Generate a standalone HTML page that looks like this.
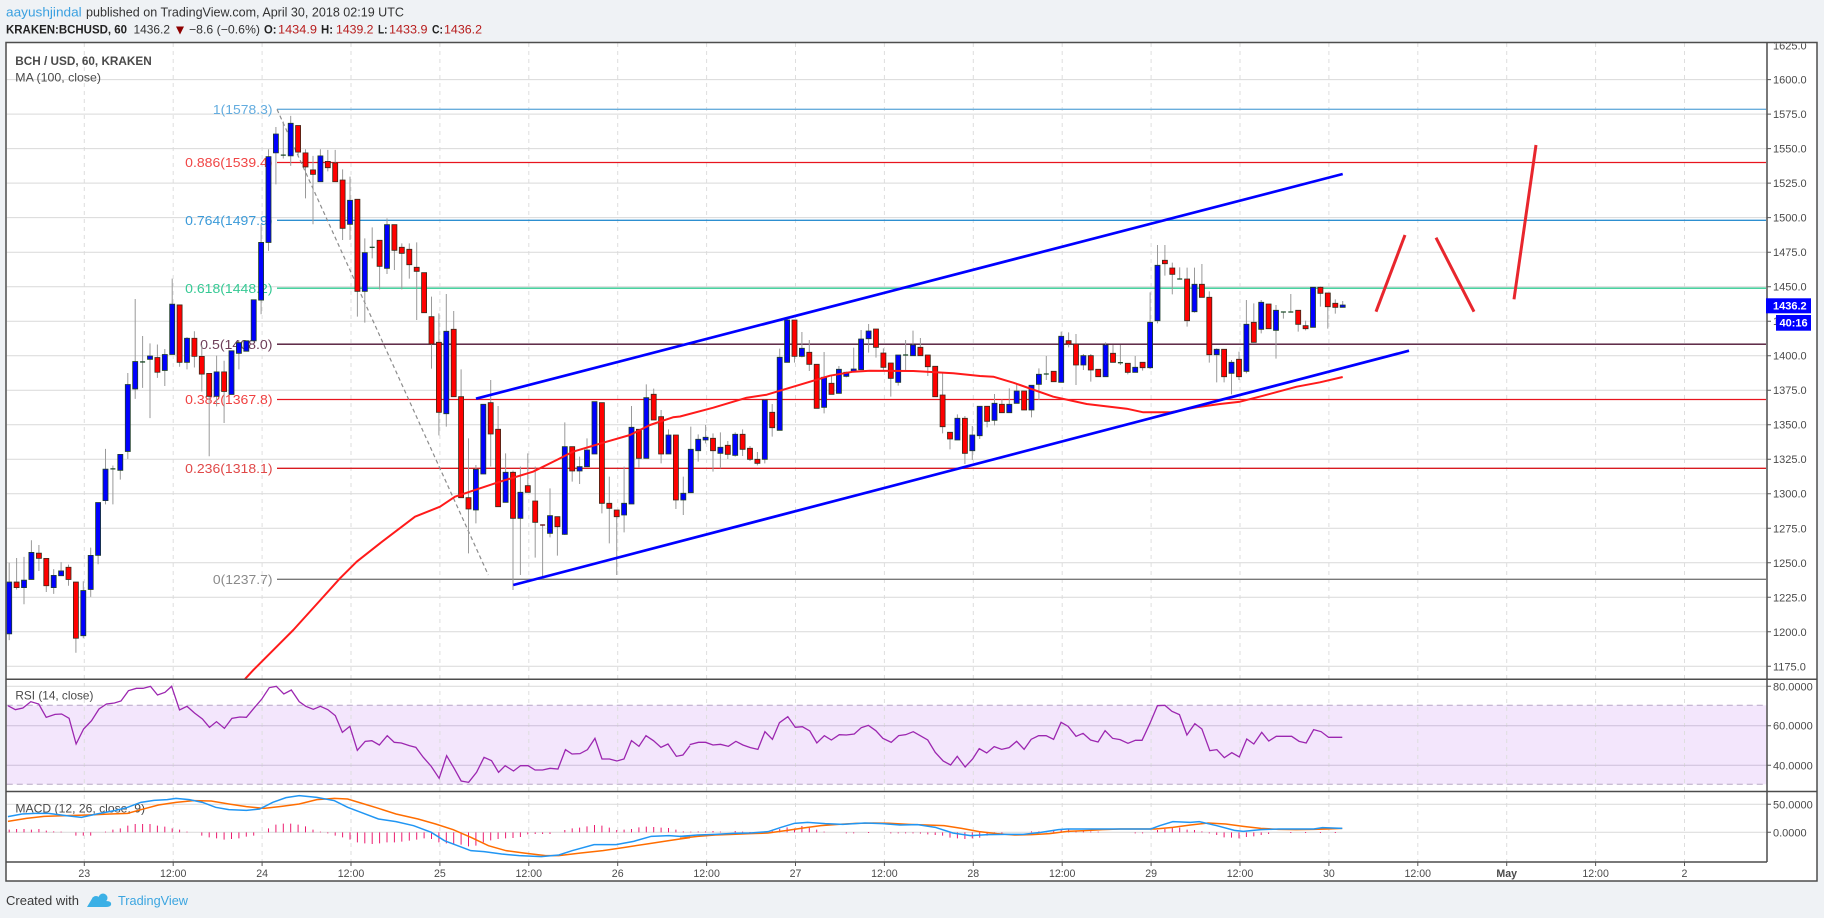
<!DOCTYPE html>
<html><head><meta charset="utf-8"><style>
html,body{margin:0;padding:0;background:#eff2f5;}
body{width:1824px;height:918px;overflow:hidden;}
svg{display:block;}
</style></head><body>
<svg width="1824" height="918" viewBox="0 0 1824 918" xmlns="http://www.w3.org/2000/svg" font-family="'Liberation Sans', Arial, sans-serif">
<defs>
<clipPath id="cm"><rect x="6.75" y="43.25" width="1759.5" height="635.5"/></clipPath>
<clipPath id="cr"><rect x="6.75" y="680" width="1759.5" height="111"/></clipPath>
<clipPath id="cd"><rect x="6.75" y="792.25" width="1759.5" height="69.5"/></clipPath>
<clipPath id="ca"><rect x="1767" y="43.5" width="50" height="636"/></clipPath>
</defs>
<rect width="1824" height="918" fill="#eff2f5"/>

<!-- header -->
<text x="6" y="16.5" font-size="13" fill="#3aa0e0" textLength="75.7" lengthAdjust="spacingAndGlyphs">aayushjindal</text>
<text x="86" y="16.5" font-size="13" fill="#333" textLength="318" lengthAdjust="spacingAndGlyphs">published on TradingView.com, April 30, 2018 02:19 UTC</text>
<g font-size="12">
<text x="6" y="33.5" font-weight="bold" fill="#222" textLength="121" lengthAdjust="spacingAndGlyphs">KRAKEN:BCHUSD, 60</text>
<text x="133.5" y="33.5" fill="#333" textLength="36.5" lengthAdjust="spacingAndGlyphs">1436.2</text>
<polygon points="176,26.5 184,26.5 180,34.5" fill="#8e0000"/>
<text x="189" y="33.5" fill="#333" textLength="71" lengthAdjust="spacingAndGlyphs">−8.6 (−0.6%)</text>
<text x="264" y="33.5" font-weight="bold" fill="#222" textLength="12.5" lengthAdjust="spacingAndGlyphs">O:</text>
<text x="278" y="33.5" fill="#b71c1c" textLength="39" lengthAdjust="spacingAndGlyphs">1434.9</text>
<text x="321" y="33.5" font-weight="bold" fill="#222" textLength="12" lengthAdjust="spacingAndGlyphs">H:</text>
<text x="336" y="33.5" fill="#b71c1c" textLength="37.5" lengthAdjust="spacingAndGlyphs">1439.2</text>
<text x="378" y="33.5" font-weight="bold" fill="#222" textLength="9.5" lengthAdjust="spacingAndGlyphs">L:</text>
<text x="389" y="33.5" fill="#b71c1c" textLength="38.5" lengthAdjust="spacingAndGlyphs">1433.9</text>
<text x="432" y="33.5" font-weight="bold" fill="#222" textLength="11" lengthAdjust="spacingAndGlyphs">C:</text>
<text x="444" y="33.5" fill="#b71c1c" textLength="38" lengthAdjust="spacingAndGlyphs">1436.2</text>
</g>

<!-- chart frame background -->
<rect x="6" y="42.5" width="1811" height="838.5" fill="#fff"/>

<!-- RSI band -->
<rect x="6.75" y="705.3" width="1759.5" height="79" fill="#f3e6fc"/>

<!-- vertical grid -->
<g stroke="#dedede" stroke-width="1" stroke-dasharray="4,4">
<path d="M84.3 43V862M173.2 43V862M262.1 43V862M351 43V862M439.9 43V862M528.8 43V862M617.7 43V862M706.6 43V862M795.5 43V862M884.4 43V862M973.3 43V862M1062.2 43V862M1151.1 43V862M1240 43V862M1328.9 43V862M1417.8 43V862M1506.7 43V862M1595.6 43V862M1684.5 43V862"/>
</g>

<!-- horizontal grid main -->
<g stroke="#d9d9d9" stroke-width="1">
<path d="M6.75 79.6H1767M6.75 114.1H1767M6.75 148.6H1767M6.75 183.1H1767M6.75 217.6H1767M6.75 252.2H1767M6.75 286.7H1767M6.75 321.2H1767M6.75 355.7H1767M6.75 390.2H1767M6.75 424.7H1767M6.75 459.2H1767M6.75 493.7H1767M6.75 528.3H1767M6.75 562.8H1767M6.75 597.3H1767M6.75 631.8H1767M6.75 666.3H1767"/>
<path d="M6.75 686.3H1767M6.75 804.3H1767M6.75 832.3H1767"/>
</g>
<path d="M6.75 725.7H1767M6.75 765.3H1767" stroke="#cdbfd9" stroke-width="1"/>
<path d="M6.75 705.3H1767M6.75 784.3H1767" stroke="#b8a8c6" stroke-width="1" stroke-dasharray="6,4"/>

<!-- fib levels -->
<g stroke-width="1.3">
<path d="M277 109.3H1766" stroke="#6aaedc"/>
<path d="M277 162.5H1766" stroke="#e8141e"/>
<path d="M277 220.3H1766" stroke="#2d8fd0"/>
<path d="M277 288.2H1766" stroke="#2fcc92"/>
<path d="M277 344.2H1766" stroke="#4b1030"/>
<path d="M277 399.5H1766" stroke="#e8141e"/>
<path d="M277 468.3H1766" stroke="#d81b20"/>
<path d="M277 579.3H1766" stroke="#787878"/>
</g>
<g font-size="13" text-anchor="end" lengthAdjust="spacingAndGlyphs">
<text x="272.5" y="113.9" fill="#63acdf" textLength="59.6" lengthAdjust="spacingAndGlyphs">1(1578.3)</text>
<text x="272.5" y="167.1" fill="#f04545" textLength="87.3" lengthAdjust="spacingAndGlyphs">0.886(1539.4)</text>
<text x="272.5" y="224.9" fill="#3a9ad9" textLength="87.3" lengthAdjust="spacingAndGlyphs">0.764(1497.9)</text>
<text x="272.5" y="292.8" fill="#35c994" textLength="87.3" lengthAdjust="spacingAndGlyphs">0.618(1448.2)</text>
<text x="272.5" y="348.8" fill="#6d3d58" textLength="72.3" lengthAdjust="spacingAndGlyphs">0.5(1408.0)</text>
<text x="272.5" y="404.1" fill="#f04040" textLength="87.3" lengthAdjust="spacingAndGlyphs">0.382(1367.8)</text>
<text x="272.5" y="472.9" fill="#e04848" textLength="87.3" lengthAdjust="spacingAndGlyphs">0.236(1318.1)</text>
<text x="272.5" y="583.9" fill="#8a8a8a" textLength="59.6" lengthAdjust="spacingAndGlyphs">0(1237.7)</text>
</g>

<!-- legends -->
<text x="15.3" y="65" font-size="12" font-weight="bold" fill="#4a4a4a" textLength="136.4" lengthAdjust="spacingAndGlyphs">BCH / USD, 60, KRAKEN</text>
<text x="15.3" y="81.5" font-size="12" fill="#4a4a4a" textLength="85.7" lengthAdjust="spacingAndGlyphs">MA (100, close)</text>
<text x="15.4" y="699.5" font-size="12" fill="#4a4a4a" textLength="78" lengthAdjust="spacingAndGlyphs">RSI (14, close)</text>
<text x="15.4" y="812.5" font-size="12" fill="#4a4a4a" textLength="129.6" lengthAdjust="spacingAndGlyphs">MACD (12, 26, close, 9)</text>

<g clip-path="url(#cm)">
<!-- diagonal dashed -->
<path d="M277 109.3L488.3 575" stroke="#8c8c8c" stroke-width="1.2" stroke-dasharray="4,3" fill="none"/>

<!-- candles group A -->
<g transform="translate(0,90) scale(1,0.36996)">
<path vector-effect="non-scaling-stroke" stroke="#9a9a9a" stroke-width="1" fill="none" d="M9.2 1278V1487M16.6 1265V1350M24 1262V1390M31.4 1217V1323M38.9 1230V1300M46.3 1266V1357M53.7 1295V1362M61.1 1276V1313M68.5 1283V1340M75.9 1330V1521M83.3 1328V1482M90.7 1237V1370M98.1 1115V1282M105.5 970V1120M112.9 1015V1120M120.3 985V1053M127.8 765V997M135.2 565V835M142.6 665V805M150 685V887M157.4 688V778M164.8 700V800M172.2 510V715M179.6 581V748M187 668V755M194.4 652V750M201.8 690V815M209.2 766V990M216.6 718V855M224.1 732V900M231.5 705V823M238.9 676V755M246.3 678V706M253.7 567V680M261.1 363V606M268.5 160V435M275.9 100V255M283.3 85V185M290.7 70V205M298.1 96V180M305.5 160V293M313 178V363M320.4 160V248M327.8 162V220M335.2 162V248"/>
<path vector-effect="non-scaling-stroke" stroke="#1f3f28" stroke-width="0.8" fill="#0000ff" d="M6.7 1330h5V1470h-5zM21.5 1325h5V1345h-5zM28.9 1250h5V1323h-5zM51.2 1312h5V1345h-5zM58.6 1300h5V1313h-5zM80.8 1353h5V1475h-5zM88.2 1258h5V1350h-5zM95.6 1115h5V1258h-5zM103 1025h5V1110h-5zM117.8 985h5V1028h-5zM125.3 796h5V977h-5zM132.7 734h5V808h-5zM147.5 719h5V728h-5zM162.3 715h5V758h-5zM169.7 579h5V715h-5zM184.5 671h5V736h-5zM214.1 762h5V828h-5zM229 705h5V823h-5zM236.4 683h5V712h-5zM243.8 678h5V706h-5zM251.2 567h5V678h-5zM258.6 412h5V568h-5zM266 180h5V412h-5zM273.4 119h5V170h-5zM288.2 90h5V178h-5zM317.9 178h5V248h-5z"/>
<path vector-effect="non-scaling-stroke" stroke="#3a2a1a" stroke-width="0.8" fill="#ff0000" d="M14.1 1330h5V1345h-5zM36.4 1252h5V1266h-5zM43.8 1266h5V1340h-5zM66 1290h5V1323h-5zM73.4 1330h5V1482h-5zM154.9 723h5V763h-5zM177.1 581h5V736h-5zM191.9 671h5V720h-5zM199.3 720h5V768h-5zM206.7 766h5V828h-5zM221.6 762h5V815h-5zM295.6 96h5V168h-5zM303 170h5V208h-5zM310.5 216h5V228h-5zM325.3 193h5V210h-5zM332.7 197h5V248h-5z"/>
<path vector-effect="non-scaling-stroke" stroke="#1f4d2b" stroke-width="1.3" fill="none" d="M110.4 1024h5M140.1 735h5M280.8 176h5"/>
</g>

<!-- candles group B -->
<g transform="translate(0,130) scale(1,0.333333)">
<path vector-effect="non-scaling-stroke" stroke="#9a9a9a" stroke-width="1" fill="none" d="M342.6 118V330M350 140V330M357.4 208V560M364.8 325V578M372.2 292V385M379.6 331V478M387 265V432M394.4 284V420M401.8 340V478M409.3 340V446M416.7 337V570M424.1 428V548M431.5 500V716M438.9 550V916M446.3 492V890M453.7 543V800M461.1 718V1103M468.5 925V1270M475.9 1005V1180M483.3 823V1032M490.7 750V1010M498.1 828V1130M505.6 970V1117M513 1022V1380M520.4 1010V1335M527.8 970V1087M535.2 1010V1283M542.6 1183V1345M550 1075V1222M557.4 1160V1277M564.8 877V1215M572.2 950V1055M579.6 980V1062M587 925V1010M594.5 815V972M601.9 818V1150M609.3 1040V1240M616.7 1140V1335M624.1 1010V1207M631.5 828V1122M638.9 898V1012M646.3 763V985M653.7 776V870M661.1 840V1000M668.5 898V972M675.9 915V1137"/>
<path vector-effect="non-scaling-stroke" stroke="#1f3f28" stroke-width="0.8" fill="#0000ff" d="M347.5 211h5V283h-5zM362.3 368h5V484h-5zM384.5 284h5V415h-5zM443.8 604h5V851h-5zM473.4 1018h5V1140h-5zM480.8 823h5V1032h-5zM503.1 1027h5V1117h-5zM517.9 1087h5V1165h-5zM547.5 1157h5V1210h-5zM562.3 950h5V1213h-5zM577.1 1010h5V1023h-5zM584.5 960h5V1010h-5zM592 815h5V972h-5zM621.6 1120h5V1155h-5zM629 892h5V1122h-5zM643.8 803h5V985h-5zM666 915h5V972h-5z"/>
<path vector-effect="non-scaling-stroke" stroke="#3a2a1a" stroke-width="0.8" fill="#ff0000" d="M340.1 150h5V295h-5zM354.9 208h5V484h-5zM377.1 331h5V409h-5zM391.9 284h5V361h-5zM399.3 352h5V370h-5zM406.8 358h5V404h-5zM414.2 412h5V424h-5zM421.6 428h5V548h-5zM429 560h5V642h-5zM436.4 637h5V847h-5zM451.2 598h5V800h-5zM458.6 800h5V1103h-5zM466 1103h5V1137h-5zM488.2 818h5V912h-5zM495.6 898h5V1130h-5zM510.5 1027h5V1165h-5zM525.3 1067h5V1087h-5zM532.7 1113h5V1177h-5zM554.9 1160h5V1190h-5zM569.7 950h5V1023h-5zM599.4 818h5V1120h-5zM606.8 1120h5V1135h-5zM614.2 1140h5V1160h-5zM636.4 898h5V985h-5zM651.2 793h5V870h-5zM658.6 860h5V972h-5zM673.4 915h5V1110h-5z"/>
<path vector-effect="non-scaling-stroke" stroke="#1f4d2b" stroke-width="1.3" fill="none" d="M369.7 352h5"/>
<path vector-effect="non-scaling-stroke" stroke="#6a1010" stroke-width="1.3" fill="none" d="M540.1 1185h5"/>
</g>

<!-- candles group C -->
<g transform="translate(0,240) scale(1,0.333333)">
<path vector-effect="non-scaling-stroke" stroke="#9a9a9a" stroke-width="1" fill="none" d="M683.3 710V825M690.8 560V758M698.2 583V665M705.6 555V610M713 580V695M720.4 577V685M727.8 603V657M735.2 577V650M742.6 568V648M750 618V663M757.4 636V676M764.8 478V670M772.2 492V590M779.7 326V571M787.1 234V367M794.5 240V368M801.9 276V352M809.3 300V393M816.7 373V505M824.1 336V520M831.5 408V463M838.9 378V460M846.3 395V412M853.7 323V394M861.1 270V389M868.6 252V338M876 267V353M883.4 325V395M890.8 369V470M898.2 345V437M905.6 300V390M913 272V347M920.4 294V347M927.8 345V408M935.2 379V470M942.6 400V580M950 577V628M957.4 523V600M964.9 528V672M972.3 558V660M979.7 499V597M987.1 499V562M994.5 462V556M1001.9 478V518M1009.3 445V518M1016.7 430V490"/>
<path vector-effect="non-scaling-stroke" stroke="#1f3f28" stroke-width="0.8" fill="#0000ff" d="M680.8 760h5V780h-5zM688.3 628h5V758h-5zM695.7 598h5V632h-5zM703.1 592h5V600h-5zM717.9 622h5V640h-5zM732.7 583h5V646h-5zM762.3 480h5V658h-5zM777.2 352h5V571h-5zM784.6 240h5V367h-5zM799.4 325h5V349h-5zM821.6 412h5V502h-5zM836.4 388h5V460h-5zM843.8 397h5V409h-5zM851.2 387h5V394h-5zM858.6 297h5V389h-5zM866.1 273h5V296h-5zM895.7 345h5V427h-5zM910.5 315h5V347h-5zM954.9 535h5V600h-5zM969.8 585h5V632h-5zM977.2 499h5V587h-5zM992 490h5V541h-5zM1006.8 493h5V518h-5zM1014.2 453h5V490h-5z"/>
<path vector-effect="non-scaling-stroke" stroke="#3a2a1a" stroke-width="0.8" fill="#ff0000" d="M710.5 595h5V632h-5zM725.3 616h5V643h-5zM740.1 583h5V628h-5zM747.5 625h5V658h-5zM754.9 658h5V670h-5zM769.7 517h5V563h-5zM792 240h5V349h-5zM806.8 337h5V373h-5zM814.2 373h5V505h-5zM829 430h5V463h-5zM873.5 267h5V322h-5zM880.9 339h5V382h-5zM888.3 369h5V415h-5zM917.9 322h5V347h-5zM925.3 345h5V380h-5zM932.7 379h5V470h-5zM940.1 465h5V560h-5zM947.5 577h5V597h-5zM962.4 535h5V640h-5zM984.6 499h5V544h-5zM999.4 493h5V518h-5z"/>
<path vector-effect="non-scaling-stroke" stroke="#1f4d2b" stroke-width="1.3" fill="none" d="M903.1 345h5"/>
</g>

<!-- candles group D -->
<g transform="translate(0,130) scale(1,0.333333)">
<path vector-effect="non-scaling-stroke" stroke="#9a9a9a" stroke-width="1" fill="none" d="M1024.1 783V840M1031.5 766V862M1038.9 715V810M1046.3 678V750M1053.7 724V755M1061.2 605V757M1068.6 607V652M1076 612V765M1083.4 672V720M1090.8 672V755M1098.2 718V740M1105.6 637V740M1113 645V697M1120.4 645V705M1127.8 700V733M1135.2 678V727M1142.6 697V722M1150.1 487V717M1157.5 345V580M1164.9 345V437M1172.3 398V493M1179.7 412V447M1187.1 413V590M1194.5 413V548M1201.9 402V502M1209.3 484V698M1216.7 655V757M1224.1 658V757M1231.5 690V793M1239 665V750M1246.4 510V730M1253.8 520V637M1261.2 510V610M1268.6 522V596M1276 525V686M1283.4 545V566M1290.8 492V548M1298.2 541V605M1305.6 572V601M1313 472V592M1320.4 470V530M1327.8 489V596M1335.3 508V551M1342.7 513V532"/>
<path vector-effect="non-scaling-stroke" stroke="#1f3f28" stroke-width="0.8" fill="#0000ff" d="M1029 766h5V840h-5zM1036.4 733h5V763h-5zM1058.7 619h5V757h-5zM1080.9 677h5V705h-5zM1103.1 645h5V740h-5zM1132.7 712h5V727h-5zM1147.6 577h5V713h-5zM1155 406h5V572h-5zM1192 463h5V545h-5zM1214.2 658h5V674h-5zM1229 697h5V730h-5zM1243.9 583h5V724h-5zM1258.7 517h5V598h-5zM1273.5 541h5V601h-5zM1310.5 472h5V592h-5zM1340.2 525h5V532h-5z"/>
<path vector-effect="non-scaling-stroke" stroke="#3a2a1a" stroke-width="0.8" fill="#ff0000" d="M1021.6 783h5V840h-5zM1051.2 724h5V755h-5zM1066.1 632h5V642h-5zM1073.5 642h5V705h-5zM1088.3 677h5V720h-5zM1095.7 718h5V740h-5zM1110.5 670h5V697h-5zM1125.3 700h5V727h-5zM1140.1 697h5V713h-5zM1162.4 391h5V401h-5zM1169.8 414h5V433h-5zM1184.6 447h5V572h-5zM1199.4 463h5V502h-5zM1206.8 502h5V674h-5zM1221.6 658h5V740h-5zM1236.5 688h5V740h-5zM1251.3 577h5V637h-5zM1266.1 522h5V596h-5zM1295.7 541h5V583h-5zM1303.1 587h5V596h-5zM1317.9 472h5V490h-5zM1325.3 489h5V530h-5zM1332.8 520h5V532h-5z"/>
<path vector-effect="non-scaling-stroke" stroke="#1f4d2b" stroke-width="1.3" fill="none" d="M1043.8 732h5M1117.9 698h5M1177.2 447h5M1280.9 546h5M1288.3 546h5"/>
</g>

<!-- MA 100 -->
<polyline fill="none" stroke="#ff1a1a" stroke-width="2" stroke-linejoin="round" points="245,679 253.3,670.1 293.3,630 320,600.5 340,578.3 356.7,561.7 380,543.3 415,516.7 440,506.7 455,496.7 480,488.3 500,481.7 533,471.7 556.7,460 573,451.7 606.7,441.7 630,435 650,425 673,417.3 680,416.5 713.3,407.7 746.7,397.7 766.7,394.7 796.7,385.7 830,375.7 853.3,371.7 870,370.7 913.3,371 953.3,373.3 980,376 993.3,376.7 1013.3,382.7 1020,385 1053.3,396.7 1086.7,404 1126.7,408.7 1143.3,412.3 1170,412.3 1196.7,407.3 1220,404 1240,401.7 1263.3,395.7 1296.7,386.7 1320,382.3 1342.7,377"/>

<!-- channel lines -->
<g stroke="#0000ff" stroke-width="2.7" stroke-linecap="butt">
<line x1="476" y1="398.7" x2="1342.7" y2="174"/>
<line x1="513.3" y1="585" x2="1409" y2="350.7"/>
</g>
<!-- red arrows -->
<g stroke="#e8262d" stroke-width="3" stroke-linecap="butt">
<line x1="1376" y1="311.7" x2="1405" y2="235"/>
<line x1="1436" y1="237.7" x2="1474" y2="311.7"/>
<line x1="1514" y1="299.3" x2="1536" y2="145"/>
</g>
</g>

<!-- RSI -->
<g clip-path="url(#cr)">
<g transform="translate(0,679) scale(0.44004,0.333333)">
<polyline vector-effect="non-scaling-stroke" fill="none" stroke="#9c27b0" stroke-width="1.3" points="18,80 35,92 52,87 70,68 88,75 105,115 125,106 140,105 157,118 173,195 190,150 208,125 225,90 242,75 260,72 275,66 292,35 310,28 325,28 342,22 358,48 375,40 390,22 408,93 425,82 442,102 460,120 476,145 492,128 510,148 527,118 545,114 560,115 578,86 595,60 612,26 628,22 645,45 662,33 680,68 695,82 712,91 728,82 745,92 762,110 778,160 795,142 812,214 830,187 845,185 862,198 880,170 896,190 912,192 930,200 945,205 962,235 980,262 998,298 1015,230 1032,268 1048,306 1065,310 1083,280 1100,235 1117,245 1133,280 1148,260 1167,276 1183,260 1200,260 1216,273 1233,273 1250,268 1268,270 1285,212 1300,225 1318,224 1335,212 1352,178 1368,240 1385,240 1402,246 1418,240 1435,185 1452,202 1468,170 1485,185 1502,205 1518,195 1537,232 1552,228 1568,200"/>
</g>
<g transform="translate(680,679) scale(0.44004,0.333333)">
<polyline vector-effect="non-scaling-stroke" fill="none" stroke="#9c27b0" stroke-width="1.3" points="22,197 42,190 58,190 75,198 92,196 110,202 127,187 143,198 160,206 177,211 193,158 210,181 226,131 245,113 262,145 278,143 295,156 311,192 328,170 344,183 362,167 378,168 396,165 412,146 428,139 445,155 461,178 480,190 497,170 513,167 530,158 546,170 563,183 580,220 598,246 615,258 630,232 648,264 665,240 680,209 697,222 714,203 731,211 748,206 765,187 782,211 798,181 815,170 832,170 849,181 866,130 882,142 900,172 916,163 933,183 950,189 966,155 983,178 1000,182 1018,193 1035,184 1050,184 1068,133 1085,80 1102,79 1118,97 1135,107 1152,168 1170,134 1186,150 1204,215 1220,212 1237,236 1254,221 1271,234 1288,180 1304,195 1322,160 1338,186 1355,172 1372,172 1390,172 1407,187 1423,192 1440,152 1457,158 1474,175 1505,175"/>
</g>
</g>

<!-- MACD -->
<g clip-path="url(#cd)">
<g transform="translate(0,679) scale(1,0.333333)">
<path vector-effect="non-scaling-stroke" stroke="#ec1a6e" stroke-width="1" fill="none" d="M9.2 460V452M16.6 460V450M24 460V450M31.4 460V452M38.9 460V450M46.3 460V455M53.7 460V457M61.1 460V458M75.9 460V470M83.3 460V470M90.7 460V470M105.5 460V458M112.9 460V452M120.3 460V448M127.8 460V440M135.2 460V435M142.6 460V435M150 460V435M157.4 460V440M164.8 460V443M172.2 460V448M179.6 460V452M187 460V458M201.8 460V470M209.2 460V475M216.6 460V478M224.1 460V482M231.5 460V480M238.9 460V478M246.3 460V473M253.7 460V470M268.5 460V448M275.9 460V437M283.3 460V434M290.7 460V434M298.1 460V437M305.5 460V442M313 460V452M320.4 460V458M327.8 460V463M335.2 460V470M342.6 460V475M350 460V482M357.4 460V490M364.8 460V493M372.2 460V495M379.6 460V493M387 460V490M394.4 460V490M401.8 460V488M409.3 460V485M416.7 460V482M424.1 460V478M431.5 460V480M438.9 460V490M446.3 460V493M453.7 460V495M461.1 460V497M468.5 460V502M475.9 460V500M483.3 460V490M490.7 460V484M498.1 460V480M505.6 460V478M513 460V477M520.4 460V474M527.8 460V466M535.2 460V465M542.6 460V465M550 460V465M564.8 460V453M572.2 460V448M579.6 460V446M587 460V442M594.5 460V438M601.9 460V440M609.3 460V446M616.7 460V453M624.1 460V452M631.5 460V450M638.9 460V445M646.3 460V443M653.7 460V444M661.1 460V446M668.5 460V447M675.9 460V452M683.3 460V457M690.8 460V458M698.2 460V457M705.6 460V457M713 460V456M720.4 460V458M735.2 460V456M742.6 460V458M750 459V462M764.8 460V457M772.2 460V455M779.7 460V450M787.1 460V445M794.5 460V448M801.9 460V441M809.3 460V446M816.7 460V452M824.1 460V458M846.3 460V463M853.7 460V463M868.6 459V462M890.8 460V463M898.2 460V463M905.6 460V463M913 460V463M920.4 460V464M927.8 460V466M935.2 460V468M942.6 460V470M950 460V476M957.4 460V478M964.9 460V480M972.3 460V478M979.7 460V476M987.1 460V470M994.5 460V468M1001.9 460V466M1031.5 460V457M1038.9 460V457M1046.3 460V456M1053.7 460V455M1061.2 460V452M1068.6 460V450M1076 460V455M1083.4 460V456M1090.8 460V457M1098.2 460V458M1135.2 460V463M1142.6 460V463M1157.5 460V453M1164.9 460V450M1172.3 460V446M1179.7 460V446M1187.1 460V452M1194.5 460V453M1201.9 460V457M1209.3 460V463M1216.7 460V468M1224.1 460V475M1231.5 460V476M1239 460V478M1246.4 460V474M1253.8 460V472M1261.2 460V468M1268.6 460V465M1290.8 459V462M1305.6 459V462M1320.4 459V462M1335.3 459V462"/>
</g>
<g transform="translate(0,679) scale(0.44004,0.333333)">
<polyline vector-effect="non-scaling-stroke" fill="none" stroke="#ff6d00" stroke-width="1.5" points="18,427 60,418 100,412 150,410 200,408 250,405 290,403 320,392 360,378 400,370 440,365 480,366 520,375 560,383 600,388 640,382 680,375 720,362 760,358 790,360 820,372 860,388 900,405 950,420 990,435 1030,452 1070,475 1110,500 1150,515 1190,522 1240,530 1270,530 1320,522 1370,515 1420,505 1470,495 1520,485 1545,480 1568,476"/>
<polyline vector-effect="non-scaling-stroke" fill="none" stroke="#2196f3" stroke-width="1.5" points="18,413 50,405 80,403 110,403 150,410 185,415 220,405 260,395 290,385 320,370 350,364 380,362 400,358 430,362 460,370 490,385 520,392 560,394 590,390 620,370 650,356 680,350 720,355 760,365 790,385 820,400 860,420 900,428 940,440 980,460 1010,485 1040,500 1070,515 1100,518 1140,525 1180,530 1230,533 1270,528 1300,515 1350,497 1400,497 1440,487 1480,472 1520,470 1545,472 1568,471"/>
</g>
<g transform="translate(680,679) scale(0.44004,0.333333)">
<polyline vector-effect="non-scaling-stroke" fill="none" stroke="#ff6d00" stroke-width="1.5" points="0,478 40,472 80,468 120,466 160,464 200,462 240,455 280,447 320,440 360,436 400,433 440,432 480,433 520,436 560,438 600,440 640,448 680,458 720,464 760,468 800,467 840,464 880,457 920,455 960,452 1000,450 1040,450 1080,450 1120,445 1160,438 1200,432 1240,435 1280,442 1320,448 1360,451 1400,452 1440,451 1470,450 1505,448"/>
<polyline vector-effect="non-scaling-stroke" fill="none" stroke="#2196f3" stroke-width="1.5" points="0,472 40,468 80,466 120,463 160,462 200,458 230,445 260,433 290,430 330,434 370,436 420,432 460,434 500,438 540,437 580,445 620,462 660,470 700,467 740,466 780,466 820,460 860,452 880,450 920,450 960,450 1000,450 1040,450 1070,450 1090,440 1120,428 1160,430 1180,428 1220,440 1260,454 1280,457 1320,452 1360,450 1400,450 1440,450 1460,446 1505,448"/>
</g>
</g>

<!-- frame lines -->
<g stroke="#4d4d4d" stroke-width="1.5" fill="none">
<rect x="6" y="42.5" width="1811" height="838.5"/>
<path d="M6 679.25H1817M6 791.5H1817M1767 42.5V862M6 862H1767"/>
</g>

<!-- price axis -->
<g stroke="#555" stroke-width="1">
<path d="M1767 79.6h4M1767 114.1h4M1767 148.6h4M1767 183.1h4M1767 217.6h4M1767 252.2h4M1767 286.7h4M1767 321.2h4M1767 355.7h4M1767 390.2h4M1767 424.7h4M1767 459.2h4M1767 493.7h4M1767 528.3h4M1767 562.8h4M1767 597.3h4M1767 631.8h4M1767 666.3h4M1767 686.3h4M1767 725.7h4M1767 765.3h4M1767 804.3h4M1767 832.3h4"/>
<path d="M84.3 862v4M173.2 862v4M262.1 862v4M351 862v4M439.9 862v4M528.8 862v4M617.7 862v4M706.6 862v4M795.5 862v4M884.4 862v4M973.3 862v4M1062.2 862v4M1151.1 862v4M1240 862v4M1328.9 862v4M1417.8 862v4M1506.7 862v4M1595.6 862v4M1684.5 862v4"/>
</g>
<g font-size="11" fill="#4a4a4a">
<g clip-path="url(#ca)"><text x="1773" y="49.5">1625.0</text></g>
<text x="1773" y="83.6">1600.0</text>
<text x="1773" y="118.1">1575.0</text>
<text x="1773" y="152.6">1550.0</text>
<text x="1773" y="187.1">1525.0</text>
<text x="1773" y="221.6">1500.0</text>
<text x="1773" y="256.2">1475.0</text>
<text x="1773" y="290.7">1450.0</text>
<text x="1773" y="325.2">1425.0</text>
<text x="1773" y="359.7">1400.0</text>
<text x="1773" y="394.2">1375.0</text>
<text x="1773" y="428.7">1350.0</text>
<text x="1773" y="463.2">1325.0</text>
<text x="1773" y="497.7">1300.0</text>
<text x="1773" y="532.3">1275.0</text>
<text x="1773" y="566.8">1250.0</text>
<text x="1773" y="601.3">1225.0</text>
<text x="1773" y="635.8">1200.0</text>
<text x="1773" y="670.3">1175.0</text>
<text x="1773" y="690.3">80.0000</text>
<text x="1773" y="729.7">60.0000</text>
<text x="1773" y="769.3">40.0000</text>
<text x="1773" y="808.3">50.0000</text>
<text x="1773" y="836.3">0.0000</text>
</g>

<!-- current price labels -->
<rect x="1766" y="298.3" width="45" height="15" fill="#0000ff"/>
<text x="1773" y="309.6" font-size="11" font-weight="bold" fill="#fff">1436.2</text>
<rect x="1776" y="315" width="35" height="15.7" fill="#0000ff"/>
<text x="1779.5" y="326.6" font-size="11" font-weight="bold" fill="#fff">40:16</text>

<!-- time axis -->
<g font-size="10.6" fill="#4a4a4a" text-anchor="middle">
<text x="84.3" y="877">23</text>
<text x="173.2" y="877">12:00</text>
<text x="262.1" y="877">24</text>
<text x="351" y="877">12:00</text>
<text x="439.9" y="877">25</text>
<text x="528.8" y="877">12:00</text>
<text x="617.7" y="877">26</text>
<text x="706.6" y="877">12:00</text>
<text x="795.5" y="877">27</text>
<text x="884.4" y="877">12:00</text>
<text x="973.3" y="877">28</text>
<text x="1062.2" y="877">12:00</text>
<text x="1151.1" y="877">29</text>
<text x="1240" y="877">12:00</text>
<text x="1328.9" y="877">30</text>
<text x="1417.8" y="877">12:00</text>
<text x="1506.7" y="877" font-weight="bold">May</text>
<text x="1595.6" y="877">12:00</text>
<text x="1684.5" y="877">2</text>
</g>

<!-- footer -->
<text x="6" y="905" font-size="13" fill="#3a3a3a" textLength="73" lengthAdjust="spacingAndGlyphs">Created with</text>
<g fill="#3bb0e6">
<path d="M87 907 L93 897 L98 903 L102 895 L106 901 Q112 901 111 905 Q110 907 106 907 Z"/>
<circle cx="96" cy="900" r="4"/>
<circle cx="103" cy="898" r="4.5"/>
</g>
<text x="118" y="905" font-size="13" fill="#3ba5e0" textLength="70" lengthAdjust="spacingAndGlyphs">TradingView</text>
</svg>
</body></html>
